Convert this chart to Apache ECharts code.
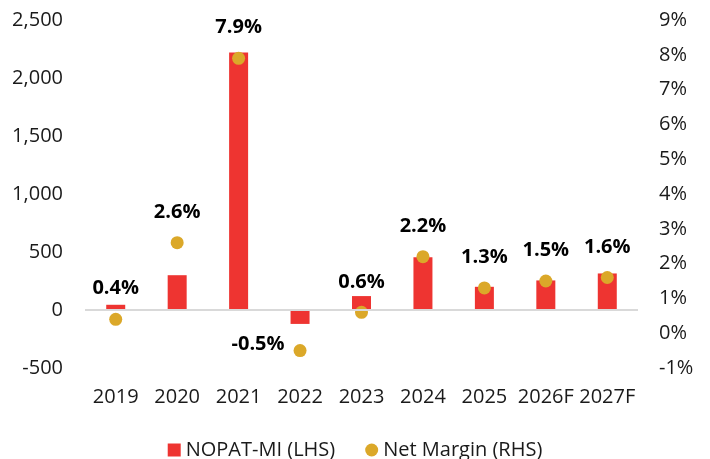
<!DOCTYPE html>
<html>
<head>
<meta charset="utf-8">
<script src="https://cdn.jsdelivr.net/npm/echarts@6/dist/echarts.min.js"></script>
<style>
  html, body { margin: 0; padding: 0; background: #fff; }
  #chart { width: 710px; height: 459px; }
</style>
</head>
<body>
<div id="chart"></div>
<script>
// Data
const years = ['2019', '2020', '2021', '2022', '2023', '2024', '2025', '2026F', '2027F'];
const nopatMi = [45, 300, 2220, -120, 120, 455, 200, 255, 315];       // LHS
const netMargin = [0.4, 2.6, 7.9, -0.5, 0.6, 2.2, 1.3, 1.5, 1.6];    // RHS, %

const FONT = '"Open Sans", "Noto Sans", sans-serif';
const RED = '#EE3431';
const GOLD = '#DBA829';

const chart = echarts.init(document.getElementById('chart'));

// margin points: the negative one gets its label on the left
const marginData = netMargin.map(v => {
    const item = { value: v };
    if (v < 0) {
        item.label = { position: 'left', distance: 9, offset: [0, -6] };
    }
    return item;
});

const option = {
    animation: false,
    textStyle: { fontFamily: FONT },
    grid: { left: 85, right: 72, top: 20, bottom: 91 },
    legend: {
        bottom: -6,
        left: 'center',
        itemWidth: 13,
        itemHeight: 13,
        itemGap: 30,
        textStyle: { fontFamily: FONT, fontSize: 20, color: '#1a1a1a' },
        data: [
            { name: 'NOPAT-MI (LHS)', icon: 'rect' },
            { name: 'Net Margin (RHS)', icon: 'circle' }
        ]
    },
    xAxis: {
        type: 'category',
        data: years,
        axisLine: { show: false, onZero: false },
        axisTick: { show: false },
        axisLabel: { fontFamily: FONT, fontSize: 20, color: '#1a1a1a', margin: 19, interval: 0 }
    },
    yAxis: [
        {
            type: 'value',
            min: -500, max: 2500, interval: 500,
            splitLine: { show: false },
            axisLine: { show: false },
            axisTick: { show: false },
            axisLabel: {
                fontFamily: FONT, fontSize: 20, color: '#1a1a1a', margin: 22,
                formatter: v => v.toLocaleString('en-US')
            }
        },
        {
            type: 'value',
            min: -1, max: 9, interval: 1,
            position: 'right',
            splitLine: { show: false },
            axisLine: { show: false },
            axisTick: { show: false },
            axisLabel: {
                fontFamily: FONT, fontSize: 20, color: '#1a1a1a', margin: 21,
                formatter: '{value}%'
            }
        }
    ],
    series: [
        {
            name: 'NOPAT-MI (LHS)',
            type: 'bar',
            yAxisIndex: 0,
            barWidth: 19,
            data: nopatMi,
            itemStyle: { color: RED },
            markLine: {
                silent: true,
                symbol: 'none',
                label: { show: false },
                lineStyle: { color: '#d9d9d9', width: 2, type: 'solid' },
                data: [{ yAxis: 0 }]
            }
        },
        {
            name: 'Net Margin (RHS)',
            type: 'scatter',
            yAxisIndex: 1,
            symbolSize: 13,
            data: marginData,
            itemStyle: { color: GOLD, opacity: 1 },
            label: {
                show: true,
                position: 'top',
                distance: 14,
                fontFamily: FONT,
                fontSize: 20,
                fontWeight: 'bold',
                color: '#000',
                formatter: p => p.value.toFixed(1) + '%'
            },
            z: 3
        }
    ]
};

chart.setOption(option);
</script>
</body>
</html>
